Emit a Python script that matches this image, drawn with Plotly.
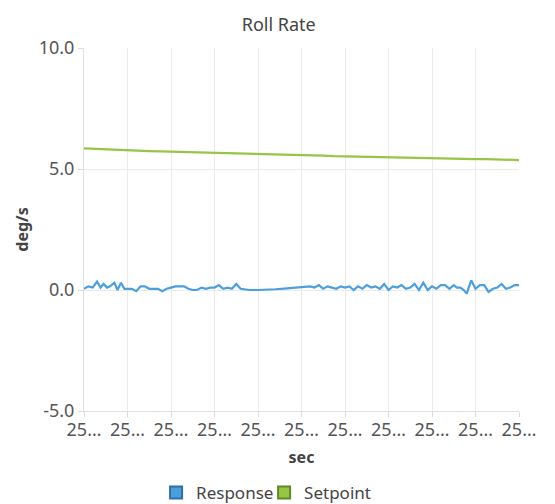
import plotly.graph_objects as go

# ---- data ----
response_x = [0, 1, 2, 3, 3.8, 4.5, 5.3, 6, 7, 7.7, 8.5, 9.3, 10, 11, 12, 13, 14, 15, 16, 17, 18, 19, 20,
              21, 22, 23, 24, 25, 26, 27, 28, 29, 30, 31, 32, 33, 34, 35, 36, 38, 40, 42, 44, 46, 48, 50,
              51, 52, 53, 54, 55, 56, 57, 58, 59, 60, 61, 62, 63, 64, 65, 66, 67, 68, 69, 70, 71, 72, 73,
              74, 75, 76, 77, 78, 79, 80, 81, 82, 83, 84, 85, 85.7, 86.5, 87.3, 88, 89, 90, 91, 92, 93, 94,
              95, 96, 97, 98, 99, 100]
response_y = [0.05, 0.15, 0.1, 0.35, 0.1, 0.25, 0.1, 0.15, 0.3, 0.0, 0.3, 0.05, 0.05, 0.05, -0.05, 0.15, 0.15,
              0.05, 0.05, 0.05, -0.05, 0.05, 0.1, 0.15, 0.15, 0.15, 0.05, 0.0, 0.0, 0.1, 0.05, 0.1, 0.1,
              0.2, 0.05, 0.1, 0.05, 0.25, 0.05, 0.0, 0.0, 0.0, 0.03, 0.06, 0.09, 0.12, 0.12, 0.15, 0.1,
              0.2, 0.05, 0.15, 0.1, 0.05, 0.15, 0.1, 0.15, 0.0, 0.15, 0.05, 0.2, 0.1, 0.15, 0.05, 0.25,
              0.0, 0.15, 0.1, 0.2, 0.05, 0.1, 0.25, 0.0, 0.3, 0.0, 0.15, 0.05, 0.2, 0.2, 0.05, 0.2, 0.1,
              0.1, 0.0, -0.15, 0.4, 0.05, 0.2, 0.2, -0.08, 0.05, 0.1, 0.25, 0.05, 0.1, 0.2, 0.2]

setpoint_x = [0, 2.5, 5, 7.5, 10, 12.5, 15, 17.5, 20, 22.5, 25, 27.5, 30, 32.5, 35, 37.5, 40, 42.5, 45, 47.5,
              50, 52.5, 55, 57.5, 60, 62.5, 65, 67.5, 70, 72.5, 75, 77.5, 80, 82.5, 85, 87.5, 90, 92.5,
              95, 97.5, 100]
setpoint_y = [5.85, 5.83, 5.79, 5.77, 5.77, 5.75, 5.74, 5.73, 5.72, 5.71, 5.7, 5.68, 5.67, 5.66, 5.64, 5.62,
              5.61, 5.6, 5.59, 5.58, 5.57, 5.56, 5.55, 5.53, 5.52, 5.52, 5.5, 5.49, 5.48, 5.47, 5.46, 5.44,
              5.43, 5.43, 5.42, 5.42, 5.41, 5.41, 5.4, 5.39, 5.37]

x_tickvals = [0, 10, 20, 30, 40, 50, 60, 70, 80, 90, 100]
x_ticklabels = ["25…"] * 11
y_tickvals = [-5, 0, 5, 10]
y_ticklabels = ["-5.0", "0.0", "5.0", "10.0"]

series_names = ["Response", "Setpoint"]
series_colors = ["#4c9fdd", "#97c646"]
series_borders = ["#2f6fa3", "#5f8a2a"]

FONT = "Noto Sans"

fig = go.Figure()
fig.add_trace(go.Scatter(x=response_x, y=response_y, mode="lines", name=series_names[0],
                         line=dict(color=series_colors[0], width=2.2), showlegend=False))
fig.add_trace(go.Scatter(x=setpoint_x, y=setpoint_y, mode="lines", name=series_names[1],
                         line=dict(color=series_colors[1], width=2.2), showlegend=False))
for name, col, bcol in zip(series_names, series_colors, series_borders):
    fig.add_trace(go.Scatter(x=[None], y=[None], mode="markers", name=name,
                             marker=dict(symbol="square", size=10, color=col,
                                         line=dict(color=bcol, width=1.5))))

# page body has an 8px margin: figure is 547x496 and offset by 8px
fig.update_layout(
    width=547, height=496,
    margin=dict(l=76, r=36, t=40, b=93, autoexpand=False),
    paper_bgcolor="white", plot_bgcolor="white",
    font=dict(family=FONT, color="#555"),
    title=dict(text="Roll Rate", x=0.495, xanchor="center", y=1 - 17 / 496, yanchor="middle",
               font=dict(size=18, color="#444", family=FONT)),
    showlegend=True,
    legend=dict(orientation="h", x=0.414, xanchor="center", y=-0.226, yanchor="middle",
                font=dict(size=17, color="#444"), itemwidth=30, tracegroupgap=0,
                itemsizing="constant", entrywidth=63, entrywidthmode="pixels"),
)
fig.update_xaxes(
    range=[0, 100], tickvals=x_tickvals, ticktext=x_ticklabels, automargin=False,
    showgrid=True, gridcolor="#ebebeb", gridwidth=1,
    showline=True, linecolor="#e0e0e0", zeroline=False,
    ticks="outside", ticklen=5, tickcolor="#dcdcdc", ticklabelstandoff=-3,
    tickfont=dict(size=18, color="#555"),
    title=dict(text="<b>sec</b>", font=dict(size=16, color="#444"), standoff=12),
)
fig.update_yaxes(
    range=[-5, 10], tickvals=y_tickvals, ticktext=y_ticklabels, automargin=False,
    showgrid=True, gridcolor="#ebebeb", gridwidth=1,
    showline=True, linecolor="#e0e0e0", zeroline=False,
    ticks="outside", ticklen=5, tickcolor="#dcdcdc",
    tickfont=dict(size=18, color="#555"),
    title=dict(text="<b>deg/s</b>", font=dict(size=16, color="#444"), standoff=6),
)

fig.write_html("out.html")
